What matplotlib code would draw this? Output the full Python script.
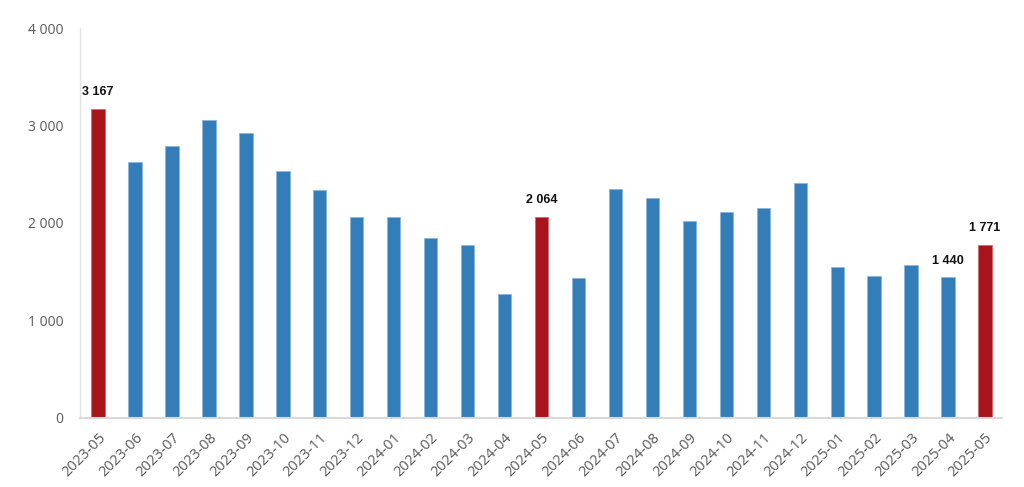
import matplotlib
matplotlib.use('Agg')
import matplotlib.pyplot as plt
import matplotlib.transforms as mtransforms
import numpy as np

months = ['2023-05', '2023-06', '2023-07', '2023-08', '2023-09', '2023-10', '2023-11',
          '2023-12', '2024-01', '2024-02', '2024-03', '2024-04', '2024-05', '2024-06',
          '2024-07', '2024-08', '2024-09', '2024-10', '2024-11', '2024-12', '2025-01',
          '2025-02', '2025-03', '2025-04', '2025-05']
values = [3167, 2620, 2793, 3054, 2924, 2530, 2335,
          2058, 2055, 1842, 1776, 1272, 2064, 1437,
          2345, 2253, 2016, 2115, 2150, 2413, 1544,
          1457, 1570, 1440, 1771]
highlight = ['2023-05', '2024-05', '2025-05']
labelled = ['2023-05', '2024-05', '2025-04', '2025-05']

BLUE = '#337EB8'; BLUE_EDGE = '#8DB6DC'
RED = '#A8141B'; RED_EDGE = '#D06A6F'
GRAY = '#595959'

def fmt(v):
    return f'{v:,}'.replace(',', ' ')

fig = plt.figure(figsize=(10.24, 4.87), dpi=100, facecolor='white')
ax = fig.add_axes([80/1024, 1 - 417.5/487, 922/1024, 389.5/487])

x = np.arange(len(months))
colors = [RED if m in highlight else BLUE for m in months]
edges = [RED_EDGE if m in highlight else BLUE_EDGE for m in months]
ax.bar(x, values, width=0.36, color=colors, edgecolor=edges, linewidth=0.6, zorder=2)

for i, (m, v) in enumerate(zip(months, values)):
    if m in labelled:
        ax.annotate(fmt(v), (i, v), xytext=(0, 12), textcoords='offset points',
                    ha='center', va='center', fontsize=9, fontweight='bold',
                    family=['Liberation Sans', 'DejaVu Sans'], color='#111111')

ax.set_xlim(-0.49, len(months) - 0.54)
ax.set_ylim(0, 4000)
ax.set_yticks([0, 1000, 2000, 3000, 4000])
ax.set_yticklabels([fmt(t) for t in [0, 1000, 2000, 3000, 4000]],
                   fontsize=10, color=GRAY, family='Open Sans')
ax.set_xticks(x)
ax.set_xticklabels(months, rotation=45, ha='right', rotation_mode='anchor',
                   fontsize=10.5, color=GRAY, family='Open Sans')
shift = mtransforms.ScaledTranslation(4/100, -2/100, fig.dpi_scale_trans)
for lbl in ax.get_xticklabels():
    lbl.set_transform(lbl.get_transform() + shift)
ax.tick_params(axis='both', length=0)
ax.tick_params(axis='y', pad=12)
ax.tick_params(axis='x', pad=9)

for s in ['top', 'right']:
    ax.spines[s].set_visible(False)
ax.spines['left'].set_color('#E3E3E3')
ax.spines['bottom'].set_color('#D9D9D9')
ax.spines['left'].set_linewidth(1.0)
ax.spines['bottom'].set_linewidth(1.5)

fig.savefig('out.png', dpi=100, facecolor='white')
